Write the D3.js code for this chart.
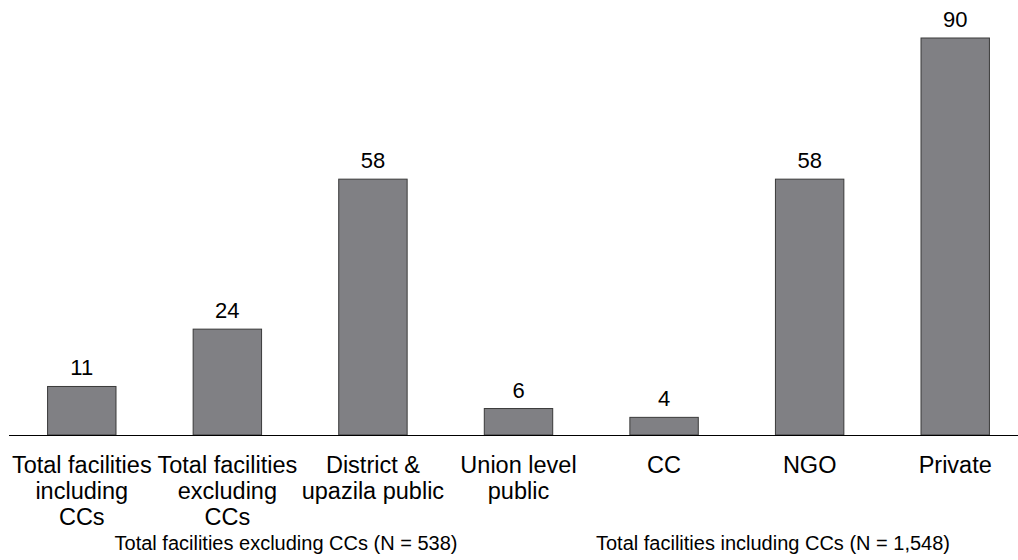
<!DOCTYPE html>
<html>
<head>
<meta charset="utf-8">
<script src="https://cdn.jsdelivr.net/npm/d3@7"></script>
<style>
  body { margin: 0; background: #fff; }
  text { font-family: "Liberation Sans", Arial, sans-serif; fill: #000; }
</style>
</head>
<body>
<div id="chart"></div>
<script>
const categories = ["Total facilities including CCs", "Total facilities excluding CCs", "District & upazila public", "Union level public", "CC", "NGO", "Private"];
const categoryLines = [
    ["Total facilities", "including", "CCs"],
    ["Total facilities", "excluding", "CCs"],
    ["District &", "upazila public"],
    ["Union level", "public"],
    ["CC"],
    ["NGO"],
    ["Private"]
];
const values = [11, 24, 58, 6, 4, 58, 90];
const groupNotes = ["Total facilities excluding CCs (N = 538)", "Total facilities including CCs (N = 1,548)"];

const width = 1018, height = 560;
const baseY = 435;

const svg = d3.select('#chart').append('svg')
    .attr('width', width)
    .attr('height', height);

const x = d3.scaleBand()
    .domain(categories)
    .range([9, 1028])
    .paddingInner(0.53)
    .paddingOuter(0.265);

const y = d3.scaleLinear()
    .domain([0, 90])
    .range([baseY, 38]);

svg.selectAll('.bar')
    .data(values)
    .enter()
    .append('rect')
    .attr('class', 'bar')
    .attr('x', (d, i) => x(categories[i]))
    .attr('y', d => y(d))
    .attr('width', x.bandwidth())
    .attr('height', d => baseY - y(d))
    .attr('fill', '#808084')
    .attr('stroke', '#3a3a3a')
    .attr('stroke-width', 1);

svg.append('line')
    .attr('x1', 9).attr('x2', width)
    .attr('y1', baseY + 0.5).attr('y2', baseY + 0.5)
    .attr('stroke', '#000')
    .attr('stroke-width', 1);

svg.selectAll('.val')
    .data(values)
    .enter()
    .append('text')
    .attr('class', 'val')
    .attr('x', (d, i) => x(categories[i]) + x.bandwidth() / 2)
    .attr('y', d => y(d) - 11)
    .attr('text-anchor', 'middle')
    .attr('font-size', '22px')
    .text(d => d);

const lbl = svg.selectAll('.cat')
    .data(categoryLines)
    .enter()
    .append('text')
    .attr('class', 'cat')
    .attr('text-anchor', 'middle')
    .attr('font-size', '23.5px');

lbl.selectAll('tspan')
    .data((d, i) => d.map(t => ({ t, i })))
    .enter()
    .append('tspan')
    .attr('x', d => x(categories[d.i]) + x.bandwidth() / 2)
    .attr('y', (d, j) => 473 + j * 26)
    .text(d => d.t);

svg.append('text')
    .attr('x', 286).attr('y', 550)
    .attr('text-anchor', 'middle')
    .attr('font-size', '20px')
    .text(groupNotes[0]);

svg.append('text')
    .attr('x', 773).attr('y', 550)
    .attr('text-anchor', 'middle')
    .attr('font-size', '20px')
    .text(groupNotes[1]);
</script>
</body>
</html>
